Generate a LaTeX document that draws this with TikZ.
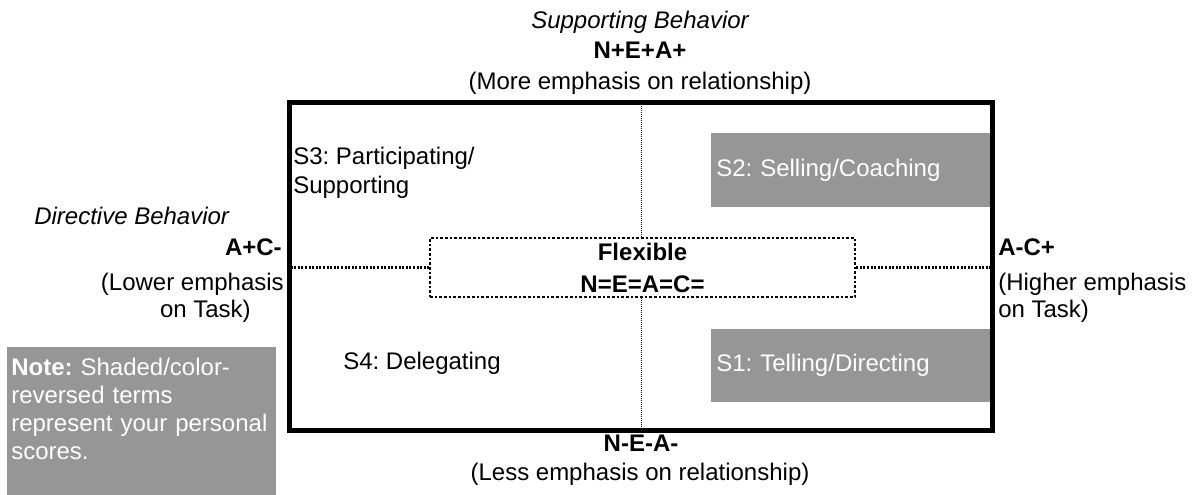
\documentclass[tikz,border=0pt]{standalone}
\usepackage{fontspec}
\setmainfont{Liberation Sans}
\definecolor{shadegray}{RGB}{150,150,150}
\frenchspacing
\begin{document}
\begin{tikzpicture}[x=0.75pt,y=-0.75pt,
  every node/.style={font=\fontsize{18}{21}\selectfont\frenchspacing, inner sep=0pt},
  bld/.style={font=\fontsize{18}{21}\selectfont\bfseries},
  itl/.style={font=\fontsize{18}{21}\selectfont\itshape},
  shade/.style={fill=shadegray, text=white, draw=none},
  framebox/.style={draw=black, line width=3.75pt, minimum width=527.25pt, minimum height=246pt},
  hdot/.style={line width=2.25pt, dash pattern=on 1.5pt off 1.2pt},
  vdot/.style={line width=0.75pt, dash pattern=on 0.75pt off 0.75pt},
  flexbox/.style={draw, fill=white, line width=1.8pt, dash pattern=on 2pt off 1.5pt,
    minimum width=318.75pt, minimum height=44.25pt, align=center,
    font=\fontsize{18}{21}\selectfont\bfseries}]
\useasboundingbox (0,0) rectangle (1197,495);

% top labels
\node[itl, anchor=base] (sup) at (640,29) {Supporting Behavior};
\node[bld, anchor=base] (nea) at (640,59) {N+E+A+};
\node[anchor=base] (more) at (640,90) {(More emphasis on relationship)};

% frame and axes
\node[framebox] (frame) at (641,266.5) {};
\draw[vdot] (frame.north) -- (frame.south);
\node[flexbox] (flex) at (642.5,267.5) {Flexible\\[3pt]N=E=A=C=};
\draw[hdot] (frame.west |- flex.west) -- (flex.west);
\draw[hdot] (flex.east) -- (frame.east |- flex.east);

% shaded quadrant boxes
\node[shade, anchor=north west, minimum height=55.5pt, text width=201.75pt,
  inner xsep=3.75pt, align=left] (s2) at (711,133) {S2: Selling/Coaching};
\node[shade, anchor=north west, minimum height=54.75pt, text width=201.75pt,
  inner xsep=3.75pt, align=left] (s1) at (711,329) {S1: Telling/Directing};

% quadrant labels
\node[anchor=base west] (s3a) at (293,165) {S3: Participating/};
\node[anchor=base west] (s3b) at (293,194) {Supporting};
\node[anchor=base west] (s4) at (343,370) {S4: Delegating};

% left labels
\node[itl, anchor=base west] (dir) at (34,225) {Directive Behavior};
\node[bld, anchor=base east] (acl) at (282,256) {A+C-};
\node[anchor=base east] (low1) at (284,291) {(Lower emphasis};
\node[anchor=base east] (low2) at (251,318) {on Task)};

% right labels
\node[bld, anchor=base west] (acr) at (998,256) {A-C+};
\node[anchor=base west] (high1) at (998,291) {(Higher emphasis};
\node[anchor=base west] (high2) at (998,318) {on Task)};

% bottom labels
\node[bld, anchor=base] (nem) at (641,452) {N-E-A-};
\node[anchor=base] (less) at (640,480) {(Less emphasis on relationship)};

% note
\node[shade, anchor=north west, minimum width=201.75pt, minimum height=111pt] (notebg) at (7,347) {};
\node[anchor=north west, text=white, align=left, text width=200pt,
  font=\fontsize{18}{21}\selectfont] (note) at (11,358)
  {\textbf{Note:} Shaded/color-\\reversed terms\\represent your personal\\scores.};
\end{tikzpicture}
\end{document}
